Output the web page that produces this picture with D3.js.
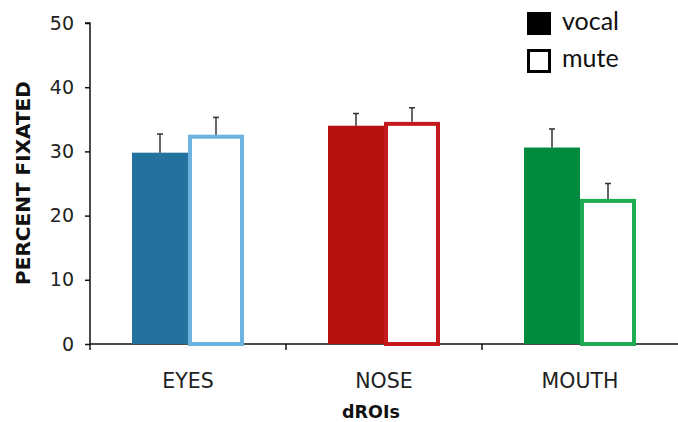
<!DOCTYPE html>
<html><head><meta charset="utf-8">
<script src="https://cdn.jsdelivr.net/npm/d3@7"></script>
<style>html,body{margin:0;padding:0;background:#fff;}svg{display:block;}</style>
</head><body>
<svg id="c" width="678" height="422"></svg>
<script>
const categories = ["EYES", "NOSE", "MOUTH"];
const series = ["vocal", "mute"];
const vocalValues = [29.8, 34.0, 30.6];
const vocalErrors = [32.7, 35.9, 33.5];
const muteValues = [32.6, 34.6, 22.6];
const muteErrors = [35.3, 36.8, 25.0];
const yTicks = [0, 10, 20, 30, 40, 50];
const vocalColors = ["#23719f", "#b5120f", "#008a3e"];
const muteColors = ["#6db3e0", "#c41a1d", "#1fab52"];

const svg = d3.select("#c");
const x = d3.scaleBand().domain(categories).range([90, 678]);
const y = d3.scaleLinear().domain([0, 50]).range([344, 23]);
const bw = x.bandwidth();
const sub = d3.scaleBand().domain(series).range([bw / 2 - 56, bw / 2 + 56]);

// y axis
const yAxis = svg.append("g").attr("transform", "translate(90,0)")
  .call(d3.axisLeft(y).tickValues(yTicks).tickSize(5).tickPadding(11));
yAxis.select(".domain").attr("stroke", "#111").attr("stroke-width", 1.5).attr("d", `M-5,${y(50)}H0V${y(0)}`);
yAxis.selectAll(".tick line").attr("stroke", "#111").attr("stroke-width", 1.5);
yAxis.selectAll(".tick text").attr("font-family", "DejaVu Sans").attr("font-size", 19).attr("fill", "#222");

// x axis line and ticks at band boundaries
svg.append("line").attr("x1", 90).attr("x2", 678).attr("y1", y(0)).attr("y2", y(0))
  .attr("stroke", "#111").attr("stroke-width", 1.5);
svg.selectAll(".xt").data(categories).enter().append("line")
  .attr("x1", d => x(d)).attr("x2", d => x(d)).attr("y1", y(0)).attr("y2", y(0) + 6)
  .attr("stroke", "#111").attr("stroke-width", 1.5);
svg.selectAll(".xl").data(categories).enter().append("text")
  .attr("x", d => x(d) + bw / 2).attr("y", 388).attr("text-anchor", "middle")
  .attr("font-family", "DejaVu Sans").attr("font-size", 20.5).attr("fill", "#222").text(d => d);

// bars
const g = svg.append("g");
categories.forEach((c, i) => {
  const x0 = x(c);
  g.append("rect").attr("x", x0 + sub("vocal")).attr("width", sub.bandwidth())
    .attr("y", y(vocalValues[i])).attr("height", y(0) - y(vocalValues[i])).attr("fill", vocalColors[i]);
  const sw = 4;
  g.append("rect").attr("x", x0 + sub("mute") + sw / 2).attr("width", sub.bandwidth() - sw)
    .attr("y", y(muteValues[i]) + sw / 2).attr("height", y(0) - y(muteValues[i]) - sw / 2)
    .attr("fill", "#fff").attr("stroke", muteColors[i]).attr("stroke-width", sw);
  [[sub("vocal"), vocalValues[i], vocalErrors[i]], [sub("mute"), muteValues[i], muteErrors[i]]].forEach(([sx, v, e]) => {
    const cx = x0 + sx + sub.bandwidth() / 2;
    g.append("line").attr("x1", cx).attr("x2", cx).attr("y1", y(v)).attr("y2", y(e))
      .attr("stroke", "#333").attr("stroke-width", 1.5);
    g.append("line").attr("x1", cx - 3).attr("x2", cx + 3).attr("y1", y(e)).attr("y2", y(e))
      .attr("stroke", "#333").attr("stroke-width", 1.5);
  });
});

// axis titles
svg.append("text").attr("transform", "translate(30,183) rotate(-90)").attr("text-anchor", "middle")
  .attr("font-family", "DejaVu Sans").attr("font-weight", "bold").attr("font-size", 20).attr("fill", "#111")
  .text("PERCENT FIXATED");
svg.append("text").attr("x", 371).attr("y", 418).attr("text-anchor", "middle")
  .attr("font-family", "DejaVu Sans").attr("font-weight", "bold").attr("font-size", 17.5).attr("fill", "#111")
  .text("dROIs");

// legend
const leg = svg.append("g");
series.forEach((s, i) => {
  const ly = 12 + i * 37;
  if (i === 0) {
    leg.append("rect").attr("x", 527).attr("y", ly).attr("width", 24).attr("height", 23).attr("fill", "#000");
  } else {
    leg.append("rect").attr("x", 528.5).attr("y", ly + 1.5).attr("width", 21).attr("height", 21)
      .attr("fill", "#fff").attr("stroke", "#000").attr("stroke-width", 3);
  }
  leg.append("text").attr("x", 562).attr("y", ly + 18).attr("font-family", "Lato").attr("font-size", 25)
    .attr("fill", "#111").text(s);
});
</script>
</body></html>
